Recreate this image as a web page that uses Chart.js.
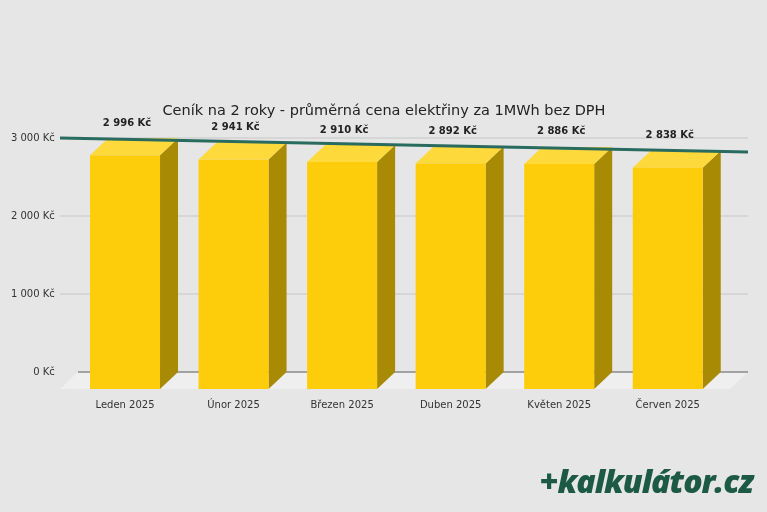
<!DOCTYPE html>
<html>
<head>
<meta charset="utf-8">
<script src="https://cdn.jsdelivr.net/npm/chart.js@4"></script>
<style>
html, body { margin: 0; padding: 0; background: #e6e6e6; }
#wrap { position: relative; width: 767px; height: 512px; }
#logo { position: absolute; right: 14px; bottom: 10px; font-family: "Open Sans", sans-serif; font-weight: 800; font-style: italic; font-size: 32px; color: #1d5a45; letter-spacing: -1px; }
</style>
</head>
<body>
<div id="wrap">
<canvas id="chart" width="767" height="512"></canvas>
<div id="logo">+kalkulátor.cz</div>
</div>
<script>
// ===============================
// DATA
// ===============================
const months = ["Leden 2025", "Únor 2025", "Březen 2025", "Duben 2025", "Květen 2025", "Červen 2025"];
const prices = [2996, 2941, 2910, 2892, 2886, 2838];
const trendEnds = [3000, 2821];
const yTicks = [0, 1000, 2000, 3000];
const titleText = "Ceník na 2 roky - průměrná cena elektřiny za 1MWh bez DPH";

const DX = 18, DY = 17;

function fmt(v) {
    return String(v).replace(/\B(?=(\d{3})+(?!\d))/g, " ") + " Kč";
}

// ===============================
// 3D BARS PLUGIN
// ===============================
const bars3d = {
    id: "bars3d",
    beforeDatasetsDraw(chart) {
        const ctx = chart.ctx;
        const y = chart.scales.y;
        const y0 = y.getPixelForValue(0);
        ctx.save();
        // title
        ctx.fillStyle = "#222";
        ctx.font = "14.5px 'DejaVu Sans', sans-serif";
        ctx.textAlign = "center";
        ctx.textBaseline = "middle";
        ctx.fillText(titleText, 384, 111);
        // floor
        ctx.fillStyle = "#efefef";
        ctx.beginPath();
        ctx.moveTo(60 + DX, y0);
        ctx.lineTo(748, y0);
        ctx.lineTo(748 - DX, y0 + DY);
        ctx.lineTo(60, y0 + DY);
        ctx.closePath();
        ctx.fill();
        // grid lines
        yTicks.forEach(t => {
            const py = y.getPixelForValue(t);
            ctx.strokeStyle = t === 0 ? "#8a8a8a" : "#c6c6c6";
            ctx.lineWidth = t === 0 ? 1.5 : 1;
            ctx.beginPath();
            ctx.moveTo(t === 0 ? 60 + DX : 60, py);
            ctx.lineTo(748, py);
            ctx.stroke();
        });
        ctx.restore();
    },
    afterDatasetsDraw(chart) {
        const ctx = chart.ctx;
        const x = chart.scales.x;
        const y = chart.scales.y;
        const y0 = y.getPixelForValue(0);
        const w = 70;
        ctx.save();
        prices.forEach((v, i) => {
            const cx = x.getPixelForValue(i);
            const l = cx - w / 2, r = cx + w / 2;
            const top = y.getPixelForValue(v) + DY;
            const bot = y0 + DY;
            // side
            ctx.fillStyle = "#a88a04";
            ctx.beginPath();
            ctx.moveTo(r, top); ctx.lineTo(r + DX, top - DY);
            ctx.lineTo(r + DX, bot - DY); ctx.lineTo(r, bot);
            ctx.closePath(); ctx.fill();
            // top
            ctx.fillStyle = "#fdd93c";
            ctx.beginPath();
            ctx.moveTo(l, top); ctx.lineTo(l + DX, top - DY);
            ctx.lineTo(r + DX, top - DY); ctx.lineTo(r, top);
            ctx.closePath(); ctx.fill();
            // front
            ctx.fillStyle = "#fdcd0b";
            ctx.fillRect(l, top, w, bot - top);
            // value label
            ctx.fillStyle = "#222";
            ctx.font = "bold 10px 'DejaVu Sans', sans-serif";
            ctx.textAlign = "center";
            ctx.textBaseline = "middle";
            ctx.fillText(fmt(v), cx + 2, top - DY - 15);
        });
        // trend line
        ctx.strokeStyle = "#2a6b5f";
        ctx.lineWidth = 3;
        ctx.beginPath();
        ctx.moveTo(60, y.getPixelForValue(trendEnds[0]));
        ctx.lineTo(748, y.getPixelForValue(trendEnds[1]));
        ctx.stroke();
        ctx.restore();
    }
};

// ===============================
// CHART
// ===============================
const ctx = document.getElementById("chart").getContext("2d");
new Chart(ctx, {
    type: "bar",
    data: {
        labels: months,
        datasets: [{ data: prices, backgroundColor: "rgba(0,0,0,0)" }]
    },
    options: {
        responsive: false,
        animation: false,
        layout: { padding: { left: 0, right: 45, top: 138, bottom: 82 } },
        scales: {
            x: {
                grid: { display: false },
                border: { display: false },
                ticks: {
                    color: "#333",
                    padding: 19,
                    font: { family: "DejaVu Sans", size: 10 }
                }
            },
            y: {
                min: 0,
                max: 3000,
                afterFit(scale) { scale.width = 70.75; },
                grid: { display: false },
                border: { display: false },
                ticks: {
                    stepSize: 1000,
                    padding: 8,
                    color: "#333",
                    font: { family: "DejaVu Sans", size: 10 },
                    callback: v => fmt(v)
                }
            }
        },
        plugins: {
            legend: { display: false },
            tooltip: { enabled: false },
            title: { display: false }
        }
    },
    plugins: [bars3d]
});
</script>
</body>
</html>
